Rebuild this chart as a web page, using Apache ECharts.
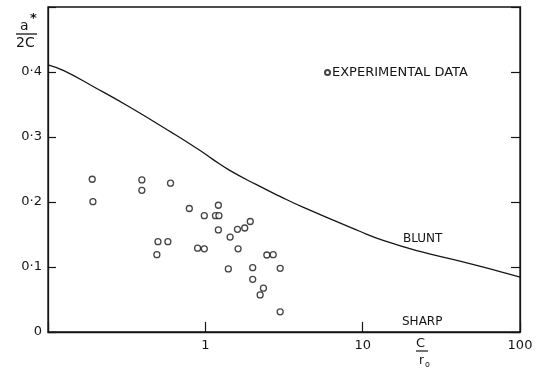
<!DOCTYPE html>
<html>
<head>
<meta charset="utf-8">
<script src="https://cdn.jsdelivr.net/npm/echarts@6/dist/echarts.min.js"></script>
<style>html,body{margin:0;padding:0;background:#fff}#c{width:543px;height:375px}</style>
</head>
<body>
<div id="c"></div>
<script>
// Experimental data (C/r0, a*/2C)
var expX = [0.191, 0.193, 0.395, 0.395, 0.601, 0.791, 0.985, 0.50, 0.578, 0.492, 0.893, 0.985,
            1.21, 1.16, 1.22, 1.21, 1.437, 1.60, 1.78, 1.93, 1.615, 2.46, 2.70, 1.40, 2.00, 2.99, 2.00, 2.34, 2.23, 2.99];
var expY = [0.235, 0.2005, 0.234, 0.218, 0.229, 0.190, 0.179, 0.139, 0.139, 0.119, 0.129, 0.128,
            0.195, 0.179, 0.179, 0.157, 0.146, 0.158, 0.160, 0.170, 0.128, 0.1185, 0.119, 0.097, 0.099, 0.098, 0.081, 0.0675, 0.057, 0.031];
// Blunt curve
var bluntX = [0.1, 0.126, 0.196, 0.32, 0.62, 0.916, 1.11, 1.42, 2.1, 2.96, 4.17, 9.57, 13.5, 23.1, 41.5, 74.6, 100];
var bluntY = [0.411, 0.402, 0.377, 0.348, 0.306, 0.280, 0.266, 0.249, 0.227, 0.209, 0.192, 0.155, 0.141, 0.124, 0.109, 0.093, 0.0845];
var xTickLabels = {1: '1', 10: '10', 100: '100'};
var yTickLabels = {0: '0', 0.1: '0·1', 0.2: '0·2', 0.3: '0·3', 0.4: '0·4'};

var expData = expX.map(function (x, i) { return [x, expY[i]]; });
var bluntData = bluntX.map(function (x, i) { return [x, bluntY[i]]; });

var ink = '#151515';
var font = 'DejaVu Sans';
var chart = echarts.init(document.getElementById('c'), null, {renderer: 'canvas'});
chart.setOption({
  animation: false,
  backgroundColor: '#fff',
  grid: {left: 48, right: 23, top: 7, bottom: 43, show: true, borderColor: ink, borderWidth: 1.3},
  legend: {
    data: ['EXPERIMENTAL DATA'],
    left: 319, top: 61, itemWidth: 5, itemHeight: 5,
    textStyle: {fontFamily: font, fontSize: 13, color: ink, padding: [0, 0, 0, -3]}
  },
  xAxis: {
    type: 'log', logBase: 10, min: 0.1, max: 100,
    axisLine: {lineStyle: {color: ink, width: 1.3}},
    axisTick: {inside: true, length: 10, lineStyle: {color: ink, width: 1.2}},
    minorTick: {show: false},
    splitLine: {show: false},
    axisLabel: {
      margin: 7, color: ink, fontFamily: font, fontSize: 13,
      formatter: function (v) { var k = Math.round(v * 1000) / 1000; return xTickLabels[k] || ''; }
    }
  },
  yAxis: [{
    type: 'value', min: 0, max: 0.5, interval: 0.1,
    axisLine: {show: true, lineStyle: {color: ink, width: 1.3}},
    axisTick: {show: true, inside: true, length: 8, lineStyle: {color: ink, width: 1.2}},
    splitLine: {show: false},
    axisLabel: {
      margin: 6, color: ink, fontFamily: font, fontSize: 13,
      formatter: function (v) { var k = Math.round(v * 10) / 10; return yTickLabels[k] || ''; }
    }
  }, {
    type: 'value', min: 0, max: 0.5, interval: 0.1, position: 'right',
    axisLine: {show: true, lineStyle: {color: ink, width: 1.3}},
    axisTick: {show: true, inside: true, length: 9, lineStyle: {color: ink, width: 1.2}},
    splitLine: {show: false},
    axisLabel: {show: false}
  }],
  series: [{
    name: 'BLUNT', type: 'line', data: bluntData, smooth: 0.5, showSymbol: false,
    lineStyle: {color: ink, width: 1.3}, z: 3
  }, {
    name: 'EXPERIMENTAL DATA', type: 'scatter', data: expData, symbol: 'circle', symbolSize: 6,
    itemStyle: {color: '#fff', borderColor: ink, borderWidth: 1.3}, z: 4
  }],
  graphic: [
    {type: 'text', left: 403, top: 233, style: {text: 'BLUNT', font: '12px "DejaVu Sans"', fill: ink}},
    {type: 'text', left: 402, top: 316, style: {text: 'SHARP', font: '12px "DejaVu Sans"', fill: ink}},
    {type: 'text', left: 20, top: 19, style: {text: 'a', font: '14px "DejaVu Sans"', fill: ink}},
    {type: 'text', left: 30, top: 12, style: {text: '*', font: 'bold 13px "DejaVu Sans"', fill: ink}},
    {type: 'line', shape: {x1: 16, y1: 34, x2: 37, y2: 34}, style: {stroke: ink, lineWidth: 1.3}},
    {type: 'text', left: 16, top: 36, style: {text: '2C', font: '14px "DejaVu Sans"', fill: ink}},
    {type: 'text', left: 416, top: 337, style: {text: 'C', font: '13px "DejaVu Sans"', fill: ink}},
    {type: 'line', shape: {x1: 416, y1: 351, x2: 428, y2: 351}, style: {stroke: ink, lineWidth: 1.2}},
    {type: 'text', left: 419, top: 355, style: {text: 'r', font: '12px "DejaVu Sans"', fill: ink}},
    {type: 'text', left: 425, top: 361, style: {text: 'o', font: '8px "DejaVu Sans"', fill: ink}}
  ]
});
</script>
</body>
</html>
